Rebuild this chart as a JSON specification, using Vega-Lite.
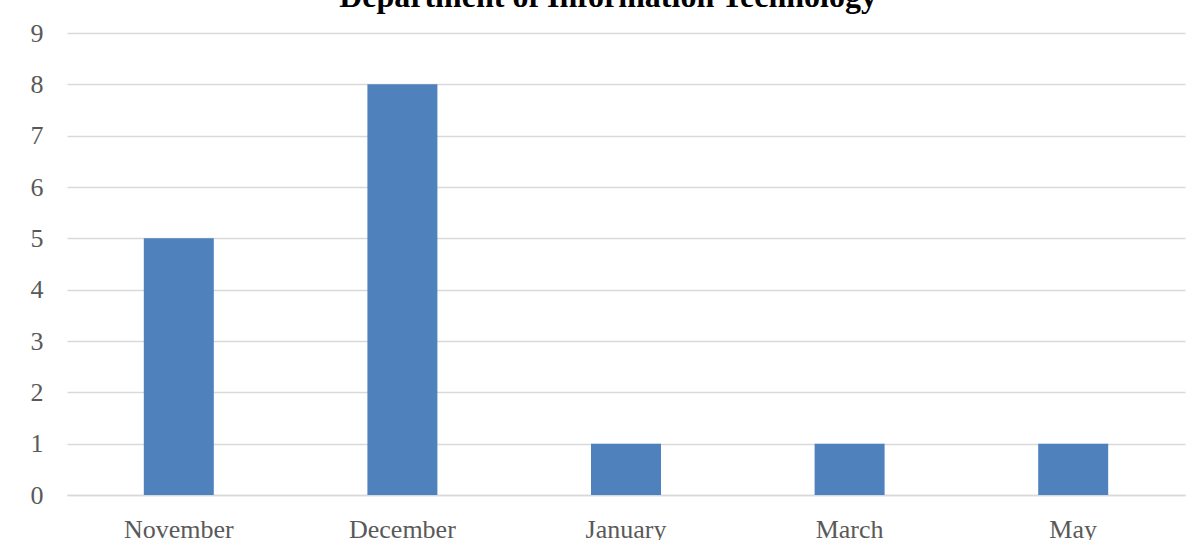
{
  "$schema": "https://vega.github.io/schema/vega-lite/v6.json",
  "width": 1118,
  "height": 462,
  "autosize": {"type": "none"},
  "padding": {"left": 67, "top": 33, "right": 13, "bottom": 45},
  "background": "white",
  "title": {
    "text": "Department of Information Technology",
    "font": "Liberation Serif",
    "fontSize": 32,
    "fontWeight": "bold",
    "color": "#000000",
    "anchor": "middle",
    "frame": "group",
    "baseline": "alphabetic",
    "offset": 0,
    "dy": 19,
    "dx": -18
  },
  "data": {
    "values": [
      {"month": "November", "count": 5},
      {"month": "December", "count": 8},
      {"month": "January", "count": 1},
      {"month": "March", "count": 1},
      {"month": "May", "count": 1}
    ]
  },
  "mark": {"type": "bar", "color": "#4f81bd"},
  "encoding": {
    "x": {
      "field": "month",
      "type": "nominal",
      "sort": null,
      "scale": {"paddingInner": 0.687, "paddingOuter": 0.3435},
      "axis": {
        "title": null,
        "labelAngle": 0,
        "labelFont": "Liberation Serif",
        "labelFontSize": 26,
        "labelColor": "#595959",
        "labelBaseline": "alphabetic",
        "labelPadding": 42,
        "ticks": false,
        "tickSize": 0,
        "domain": true,
        "domainColor": "#d9d9d9",
        "domainWidth": 1.5,
        "grid": false
      }
    },
    "y": {
      "field": "count",
      "type": "quantitative",
      "scale": {"domain": [0, 9], "nice": false},
      "axis": {
        "title": null,
        "values": [0, 1, 2, 3, 4, 5, 6, 7, 8, 9],
        "labelFont": "Liberation Serif",
        "labelFontSize": 26,
        "labelColor": "#595959",
        "labelPadding": 24,
        "ticks": false,
        "tickSize": 0,
        "domain": false,
        "grid": true,
        "gridColor": "#d9d9d9",
        "gridWidth": 1.5
      }
    }
  },
  "config": {"view": {"stroke": null}}
}
